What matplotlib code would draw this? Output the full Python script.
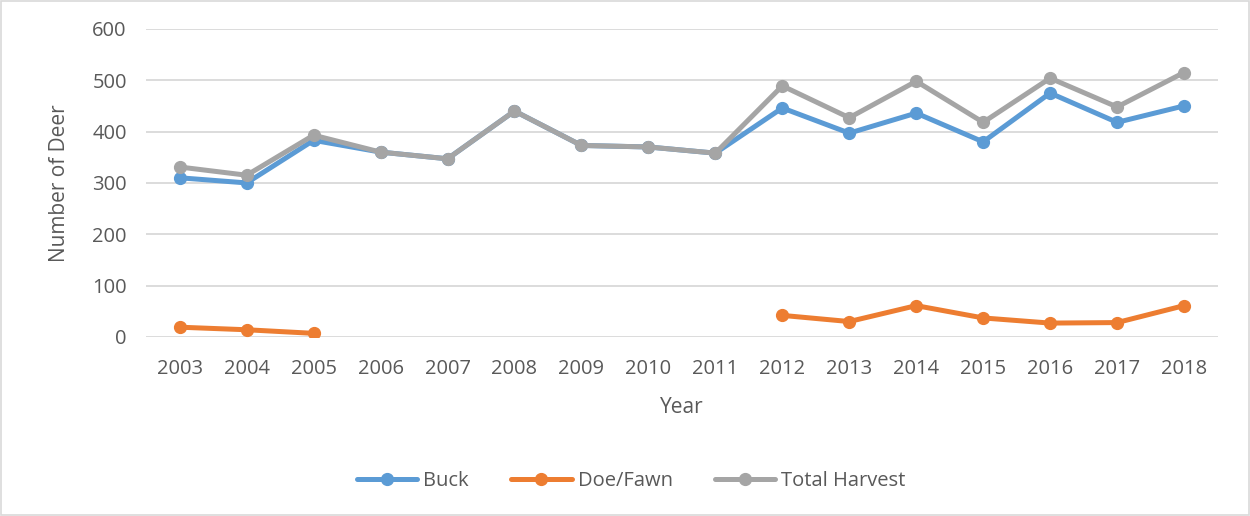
import matplotlib
matplotlib.use("Agg")
import matplotlib.pyplot as plt
import numpy as np

years = ["2003", "2004", "2005", "2006", "2007", "2008", "2009", "2010",
         "2011", "2012", "2013", "2014", "2015", "2016", "2017", "2018"]
buck = [310, 300, 383, 360, 347, 440, 373, 370, 358, 446, 397, 436, 380, 475, 418, 450]
doe_fawn = [19, 14, 7, np.nan, np.nan, np.nan, np.nan, np.nan, np.nan,
            42, 30, 61, 37, 27, 28, 61]
total = [331, 315, 393, 360, 347, 440, 373, 370, 358, 489, 427, 498, 418, 504, 448, 515]
yticks = [0, 100, 200, 300, 400, 500, 600]

plt.rcParams['font.family'] = ['Open Sans', 'DejaVu Sans']
text_color = '#595959'

fig = plt.figure(figsize=(12.5, 5.16), dpi=100)
ax = fig.add_axes([0.117, 0.347, 0.857, 0.597])

x = np.arange(len(years))
series = [("Buck", buck, '#5B9BD5'), ("Doe/Fawn", doe_fawn, '#ED7D31'),
          ("Total Harvest", total, '#A5A5A5')]
for i, (name, vals, col) in enumerate(series):
    ax.plot(x, vals, color=col, lw=3.6, marker='o', ms=8.5, label=name,
            zorder=3 + i, solid_capstyle='round')

ax.set_xlim(-0.5, len(years) - 0.5)
ax.set_ylim(0, 600)
ax.set_yticks(yticks)
ax.set_xticks(x)
ax.set_xticklabels(years)
ax.grid(axis='y', color='#D9D9D9', lw=1.3)
ax.set_axisbelow(True)
for s in ax.spines.values():
    s.set_visible(False)
ax.tick_params(length=0, labelsize=14.5, colors=text_color)
ax.tick_params(axis='x', pad=16)
ax.tick_params(axis='y', pad=14)
ax.set_xlabel("Year", fontsize=15, color=text_color, labelpad=13)
ax.set_ylabel("Number of Deer", fontsize=15, color=text_color, labelpad=16)

leg = fig.legend(loc='center', bbox_to_anchor=(0.505, 0.068), ncol=3, frameon=False,
                 fontsize=14.5, handlelength=3.0, columnspacing=2.1, handletextpad=0.3)
for t in leg.get_texts():
    t.set_color(text_color)

border = plt.Rectangle((0.001, 0.001), 0.998, 0.998, transform=fig.transFigure,
                       fill=False, edgecolor='#D9D9D9', lw=1.2)
fig.patches.append(border)

fig.savefig("out.png", dpi=100)
